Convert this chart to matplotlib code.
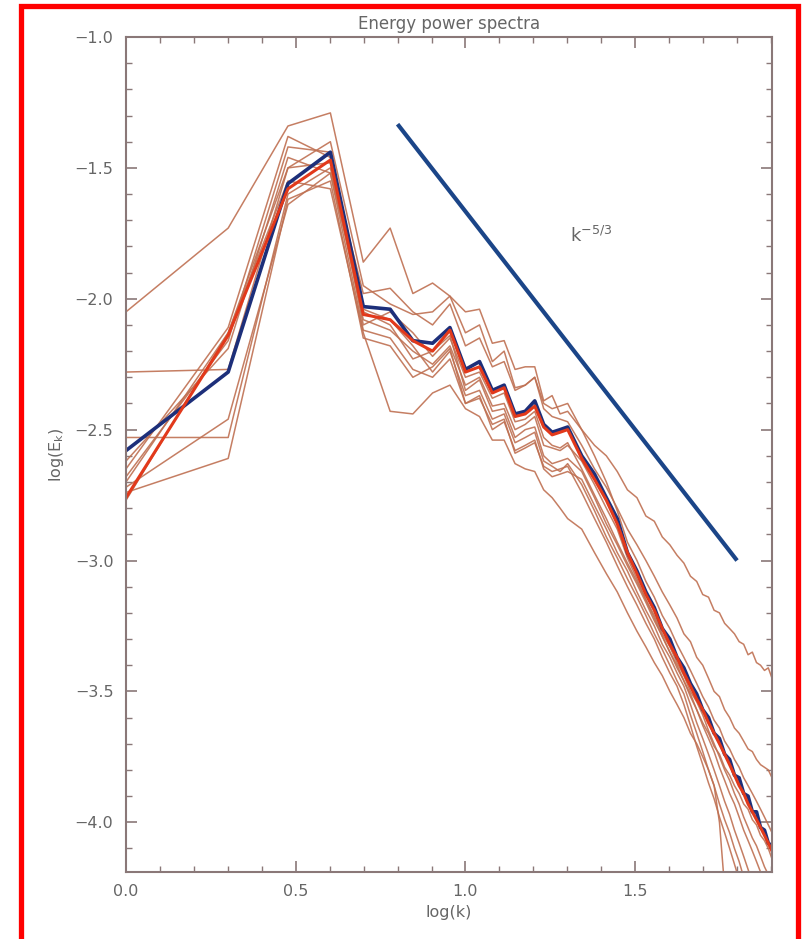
import numpy as np
import matplotlib
matplotlib.use('Agg')
import matplotlib.pyplot as plt
from matplotlib.patches import Rectangle
from matplotlib.ticker import MultipleLocator

# wavenumbers sampled (every k up to 20, then every other one)
k = list(range(1, 21)) + list(range(22, 81, 2))

blue_run = [-2.58, -2.28, -1.56, -1.44, -2.03, -2.04, -2.16, -2.17, -2.11, -2.27,
            -2.24, -2.35, -2.33, -2.44, -2.43, -2.39, -2.48, -2.51, -2.50, -2.49,
            -2.60, -2.67, -2.76, -2.84, -2.97, -3.04, -3.12, -3.18, -3.26, -3.30,
            -3.37, -3.41, -3.47, -3.51, -3.57, -3.60, -3.66, -3.68, -3.74, -3.76,
            -3.82, -3.83, -3.89, -3.90, -3.96, -3.96, -4.02, -4.03, -4.08, -4.09]

red_run = [-2.76, -2.14, -1.58, -1.47, -2.06, -2.08, -2.16, -2.20, -2.12, -2.28,
           -2.26, -2.36, -2.34, -2.45, -2.44, -2.41, -2.49, -2.52, -2.51, -2.50,
           -2.61, -2.69, -2.77, -2.86, -2.97, -3.05, -3.13, -3.19, -3.26, -3.32,
           -3.37, -3.43, -3.48, -3.53, -3.57, -3.62, -3.66, -3.70, -3.74, -3.78,
           -3.82, -3.86, -3.89, -3.93, -3.96, -3.99, -4.02, -4.05, -4.08, -4.11]

run1 = [-2.05, -1.73, -1.34, -1.29, -1.86, -1.73, -1.98, -1.94, -1.99, -2.05,
        -2.04, -2.17, -2.16, -2.27, -2.26, -2.26, -2.39, -2.37, -2.44, -2.43,
        -2.50, -2.56, -2.60, -2.66, -2.73, -2.76, -2.83, -2.85, -2.91, -2.94,
        -2.98, -3.01, -3.06, -3.08, -3.13, -3.14, -3.19, -3.20, -3.24, -3.26,
        -3.28, -3.31, -3.32, -3.36, -3.35, -3.39, -3.40, -3.42, -3.41, -3.45]
run2 = [-2.28, -2.27, -1.50, -1.40, -1.95, -2.02, -2.06, -2.05, -1.99, -2.13,
        -2.10, -2.24, -2.20, -2.34, -2.33, -2.30, -2.42, -2.45, -2.46, -2.47,
        -2.56, -2.65, -2.72, -2.80, -2.88, -2.94, -3.00, -3.06, -3.12, -3.17,
        -3.22, -3.28, -3.31, -3.37, -3.40, -3.45, -3.50, -3.52, -3.57, -3.60,
        -3.64, -3.66, -3.69, -3.72, -3.73, -3.76, -3.78, -3.79, -3.80, -3.83]
run3 = [-2.53, -2.53, -1.60, -1.50, -2.08, -2.12, -2.20, -2.25, -2.18, -2.33,
        -2.30, -2.41, -2.40, -2.50, -2.48, -2.45, -2.56, -2.57, -2.58, -2.56,
        -2.62, -2.71, -2.80, -2.88, -2.99, -3.07, -3.15, -3.22, -3.29, -3.35,
        -3.41, -3.46, -3.52, -3.57, -3.62, -3.66, -3.71, -3.74, -3.79, -3.82,
        -3.86, -3.89, -3.93, -3.95, -3.99, -4.01, -4.05, -4.07, -4.10, -4.14]
run4 = [-2.65, -2.11, -1.38, -1.46, -2.10, -2.05, -2.13, -2.22, -2.15, -2.30,
        -2.28, -2.38, -2.36, -2.47, -2.46, -2.43, -2.53, -2.56, -2.57, -2.55,
        -2.65, -2.75, -2.84, -2.93, -3.01, -3.08, -3.15, -3.21, -3.28, -3.33,
        -3.39, -3.44, -3.50, -3.54, -3.59, -3.65, -3.70, -3.75, -3.80, -3.84,
        -3.89, -3.93, -3.98, -4.02, -4.06, -4.09, -4.13, -4.17, -4.20, -4.24]
run5 = [-2.68, -2.16, -1.42, -1.44, -2.05, -2.10, -2.23, -2.20, -2.14, -2.35,
        -2.31, -2.43, -2.42, -2.53, -2.50, -2.49, -2.60, -2.63, -2.62, -2.61,
        -2.66, -2.76, -2.86, -2.94, -3.02, -3.09, -3.16, -3.23, -3.29, -3.35,
        -3.40, -3.46, -3.51, -3.57, -3.63, -3.68, -3.73, -3.79, -3.84, -3.89,
        -3.93, -3.98, -4.03, -4.07, -4.11, -4.15, -4.19, -4.23, -4.27, -4.30]
run6 = [-2.72, -2.46, -1.64, -1.52, -2.12, -2.15, -2.27, -2.30, -2.23, -2.40,
        -2.37, -2.50, -2.47, -2.58, -2.56, -2.54, -2.65, -2.68, -2.67, -2.66,
        -2.69, -2.79, -2.88, -2.97, -3.04, -3.12, -3.19, -3.25, -3.32, -3.37,
        -3.43, -3.48, -3.55, -3.62, -3.68, -3.74, -3.80, -3.86, -3.92, -3.97,
        -4.03, -4.08, -4.13, -4.18, -4.23, -4.27, -4.32, -4.36, -4.40, -4.44]
run7 = [-2.62, -2.19, -1.46, -1.52, -2.04, -2.08, -2.18, -2.28, -2.20, -2.37,
        -2.35, -2.46, -2.44, -2.55, -2.53, -2.51, -2.62, -2.64, -2.66, -2.63,
        -2.71, -2.81, -2.91, -2.99, -3.07, -3.14, -3.21, -3.28, -3.34, -3.40,
        -3.46, -3.51, -3.59, -3.66, -3.73, -3.80, -3.86, -3.93, -3.99, -4.04,
        -4.10, -4.15, -4.21, -4.26, -4.31, -4.36, -4.40, -4.45, -4.50, -4.54]
run8 = [-2.74, -2.61, -1.62, -1.55, -2.15, -2.18, -2.30, -2.26, -2.19, -2.40,
        -2.38, -2.48, -2.46, -2.59, -2.57, -2.55, -2.64, -2.66, -2.65, -2.64,
        -2.74, -2.84, -2.93, -3.02, -3.10, -3.17, -3.24, -3.30, -3.37, -3.43,
        -3.48, -3.55, -3.63, -3.71, -3.78, -3.85, -3.91, -3.98, -4.04, -4.10,
        -4.16, -4.22, -4.28, -4.33, -4.38, -4.43, -4.48, -4.53, -4.57, -4.62]
run9 = [-2.70, -2.13, -1.55, -1.58, -2.13, -2.43, -2.44, -2.36, -2.33, -2.42,
        -2.45, -2.54, -2.54, -2.63, -2.65, -2.66, -2.73, -2.76, -2.80, -2.84,
        -2.88, -2.97, -3.05, -3.12, -3.20, -3.27, -3.33, -3.39, -3.44, -3.50,
        -3.55, -3.60, -3.66, -3.70, -3.75, -3.80, -3.86, -4.00, -4.25, -4.40,
        -4.45, -4.50, -4.55, -4.60, -4.64, -4.68, -4.72, -4.76, -4.80, -4.84]
run10 = [-2.77, -2.13, -1.50, -1.48, -1.98, -1.96, -2.05, -2.10, -2.02, -2.18,
         -2.15, -2.26, -2.24, -2.35, -2.33, -2.30, -2.40, -2.42, -2.41, -2.40,
         -2.50, -2.60, -2.70, -2.81, -2.93, -3.00, -3.08, -3.14, -3.21, -3.26,
         -3.32, -3.37, -3.42, -3.47, -3.52, -3.56, -3.61, -3.64, -3.69, -3.72,
         -3.76, -3.79, -3.83, -3.86, -3.89, -3.92, -3.95, -3.98, -4.01, -4.04]

thin_runs = [run1, run2, run3, run4, run5, run6, run7, run8, run9, run10]

# k^-5/3 reference line end points
ref_x = [0.80, 1.80]
ref_y = [-1.333, -3.0]

frame_col = '#8a7878'
text_col = '#666666'

fig = plt.figure(figsize=(8.02, 9.39), dpi=100)
ax = fig.add_axes([126 / 802, 1 - 872 / 939, 646 / 802, 835 / 939])

logk = np.log10(k)
for run in thin_runs:
    ax.plot(logk, run, color='#bf7052', linewidth=1.1, alpha=0.9)
ax.plot(logk, blue_run, color='#1d2f7a', linewidth=2.6)
ax.plot(logk, red_run, color='#e2391b', linewidth=2.2)

ax.plot(ref_x, ref_y, color='#1b4588', linewidth=3.0, solid_capstyle='butt')
ax.text(1.37, -1.76, r'k$^{-5/3}$', color=text_col, fontsize=13,
        ha='center', va='center')

ax.set_xlim(0, 1.903)
ax.set_ylim(-4.19, -1.0)
ax.xaxis.set_major_locator(MultipleLocator(0.5))
ax.xaxis.set_minor_locator(MultipleLocator(0.1))
ax.yaxis.set_major_locator(MultipleLocator(0.5))
ax.yaxis.set_minor_locator(MultipleLocator(0.1))
ax.xaxis.set_major_formatter(plt.FuncFormatter(lambda v, p: '%.1f' % v))
ax.yaxis.set_major_formatter(plt.FuncFormatter(lambda v, p: ('%.1f' % v).replace('-', '\u2212')))
ax.tick_params(which='both', direction='in', top=True, right=True,
               color=frame_col, labelcolor=text_col, labelsize=11.5)
ax.tick_params(which='major', length=8, width=1.2, pad=9)
ax.tick_params(which='minor', length=4, width=1.0)
for s in ax.spines.values():
    s.set_color(frame_col)
    s.set_linewidth(1.5)

ax.set_title('Energy power spectra', color=text_col, fontsize=12, pad=6)
ax.set_xlabel('log(k)', color=text_col, fontsize=11.5, labelpad=4)
ax.set_ylabel(r'log(E$_{\rm k}$)', color=text_col, fontsize=11.5, labelpad=6)

# red frame round the figure
fig.add_artist(Rectangle((20.5 / 802, -0.05), 777 / 802, 1.05 - 5.5 / 939,
                         transform=fig.transFigure, fill=False,
                         edgecolor='#ff0000', linewidth=3.8, clip_on=False))

fig.savefig('out.png', dpi=100)
